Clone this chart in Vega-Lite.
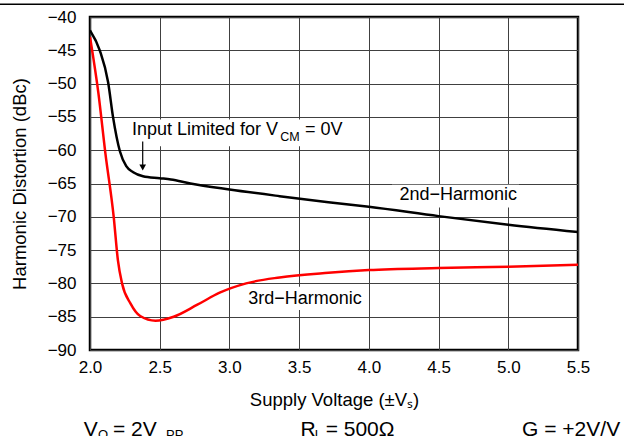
{
  "$schema": "https://vega.github.io/schema/vega-lite/v6.json",
  "width": 488,
  "height": 333,
  "autosize": {"type": "none"},
  "padding": {"left": 90, "top": 17, "right": 46, "bottom": 86},
  "background": "white",
  "config": {
    "font": "Liberation Sans",
    "view": {"stroke": "black", "strokeWidth": 2.5},
    "axis": {
      "grid": true,
      "gridColor": "#404040",
      "gridWidth": 1,
      "gridOpacity": 1,
      "domain": false,
      "ticks": false,
      "labelFont": "Liberation Sans",
      "labelFontSize": 17,
      "labelColor": "black",
      "labelOverlap": false,
      "labelFlush": false,
      "labelBound": false,
      "titleFont": "Liberation Sans",
      "titleFontSize": 18.5,
      "titleFontWeight": "normal",
      "titleColor": "black"
    }
  },
  "datasets": {
    "curves": [
      {"v": 2.0, "d": -42.0, "h": "2nd-Harmonic"},
      {"v": 2.07, "d": -45.0, "h": "2nd-Harmonic"},
      {"v": 2.13, "d": -49.8, "h": "2nd-Harmonic"},
      {"v": 2.165, "d": -55.0, "h": "2nd-Harmonic"},
      {"v": 2.215, "d": -60.2, "h": "2nd-Harmonic"},
      {"v": 2.26, "d": -62.4, "h": "2nd-Harmonic"},
      {"v": 2.31, "d": -63.3, "h": "2nd-Harmonic"},
      {"v": 2.38, "d": -63.9, "h": "2nd-Harmonic"},
      {"v": 2.5, "d": -64.2, "h": "2nd-Harmonic"},
      {"v": 2.58, "d": -64.4, "h": "2nd-Harmonic"},
      {"v": 2.72, "d": -65.0, "h": "2nd-Harmonic"},
      {"v": 3.0, "d": -65.9, "h": "2nd-Harmonic"},
      {"v": 3.36, "d": -66.9, "h": "2nd-Harmonic"},
      {"v": 3.71, "d": -67.8, "h": "2nd-Harmonic"},
      {"v": 4.0, "d": -68.5, "h": "2nd-Harmonic"},
      {"v": 4.5, "d": -69.9, "h": "2nd-Harmonic"},
      {"v": 5.0, "d": -71.2, "h": "2nd-Harmonic"},
      {"v": 5.5, "d": -72.3, "h": "2nd-Harmonic"},
      {"v": 2.0, "d": -43.0, "h": "3rd-Harmonic"},
      {"v": 2.06, "d": -51.4, "h": "3rd-Harmonic"},
      {"v": 2.11, "d": -60.4, "h": "3rd-Harmonic"},
      {"v": 2.17, "d": -70.0, "h": "3rd-Harmonic"},
      {"v": 2.2, "d": -76.5, "h": "3rd-Harmonic"},
      {"v": 2.23, "d": -80.0, "h": "3rd-Harmonic"},
      {"v": 2.29, "d": -83.0, "h": "3rd-Harmonic"},
      {"v": 2.36, "d": -84.9, "h": "3rd-Harmonic"},
      {"v": 2.47, "d": -85.6, "h": "3rd-Harmonic"},
      {"v": 2.6, "d": -85.0, "h": "3rd-Harmonic"},
      {"v": 2.77, "d": -83.2, "h": "3rd-Harmonic"},
      {"v": 2.93, "d": -81.4, "h": "3rd-Harmonic"},
      {"v": 3.12, "d": -80.0, "h": "3rd-Harmonic"},
      {"v": 3.36, "d": -79.1, "h": "3rd-Harmonic"},
      {"v": 3.71, "d": -78.4, "h": "3rd-Harmonic"},
      {"v": 4.0, "d": -78.0, "h": "3rd-Harmonic"},
      {"v": 4.5, "d": -77.7, "h": "3rd-Harmonic"},
      {"v": 5.0, "d": -77.5, "h": "3rd-Harmonic"},
      {"v": 5.5, "d": -77.2, "h": "3rd-Harmonic"}
    ],
    "boxes": [
      {"x1": 2.287, "x2": 3.85, "y1": -55.4, "y2": -59.4},
      {"x1": 4.166, "x2": 5.077, "y1": -65.2, "y2": -68.6},
      {"x1": 3.11, "x2": 3.987, "y1": -80.5, "y2": -84.0}
    ],
    "labels": [
      {"x": 2.301, "y": -56.9, "t": "Input Limited for V"},
      {"x": 3.542, "y": -56.9, "t": "= 0V"},
      {"x": 4.22, "y": -66.8, "t": "2nd−Harmonic"},
      {"x": 3.135, "y": -82.3, "t": "3rd−Harmonic"}
    ],
    "subs": [
      {"x": 3.365, "y": -58.0, "t": "CM"}
    ],
    "bottom": [
      {"x": 1.955, "y": -102.9, "t": "V"},
      {"x": 2.165, "y": -102.9, "t": "= 2V"},
      {"x": 3.51, "y": -102.9, "t": "R"},
      {"x": 3.69, "y": -102.9, "t": "= 500Ω"},
      {"x": 5.099, "y": -102.9, "t": "G = +2V/V"}
    ],
    "bottomsubs": [
      {"x": 2.058, "y": -103.4, "t": "O"},
      {"x": 2.545, "y": -103.4, "t": "PP"},
      {"x": 3.612, "y": -103.4, "t": "L"}
    ],
    "arrow": [
      {"x": 2.378, "y1": -58.7, "y2": -62.6}
    ],
    "topline": [
      {"x1": 1.354, "x2": 5.83, "y": -38.1}
    ]
  },
  "layer": [
    {
      "data": {"name": "boxes"},
      "mark": {"type": "rect", "fill": "white", "stroke": null},
      "encoding": {
        "x": {"field": "x1", "type": "quantitative",
              "scale": {"domain": [2.0, 5.5], "nice": false, "zero": false},
              "axis": {"values": [2.0, 2.5, 3.0, 3.5, 4.0, 4.5, 5.0, 5.5], "format": ".1f", "tickCount": 20,
                       "labelOverlap": false, "labelFlush": false,
                       "labelPadding": 9, "title": "Supply Voltage (±Vₛ)", "titlePadding": 15}},
        "x2": {"field": "x2"},
        "y": {"field": "y1", "type": "quantitative",
              "scale": {"domain": [-90, -40], "nice": false, "zero": false},
              "axis": {"values": [-90, -85, -80, -75, -70, -65, -60, -55, -50, -45, -40], "tickCount": 20,
                       "labelOverlap": false, "labelFlush": false, "labelBound": false,
                       "labelPadding": 14, "title": "Harmonic Distortion (dBc)", "titlePadding": 18}},
        "y2": {"field": "y2"}
      }
    },
    {
      "data": {"name": "curves"},
      "mark": {"type": "line", "strokeWidth": 2.5, "interpolate": "monotone", "clip": true},
      "encoding": {
        "x": {"field": "v", "type": "quantitative"},
        "y": {"field": "d", "type": "quantitative"},
        "detail": {"field": "h"},
        "color": {"field": "h", "type": "nominal",
                  "scale": {"domain": ["2nd-Harmonic", "3rd-Harmonic"], "range": ["#000000", "#ff0000"]},
                  "legend": null}
      }
    },
    {
      "data": {"name": "arrow"},
      "mark": {"type": "rule", "color": "black", "strokeWidth": 1.2},
      "encoding": {
        "x": {"field": "x", "type": "quantitative"},
        "y": {"field": "y1", "type": "quantitative"},
        "y2": {"field": "y2"}
      }
    },
    {
      "data": {"name": "arrow"},
      "mark": {"type": "point", "shape": "triangle-down", "filled": true, "color": "black", "size": 45, "opacity": 1},
      "encoding": {
        "x": {"field": "x", "type": "quantitative"},
        "y": {"field": "y2", "type": "quantitative"}
      }
    },
    {
      "data": {"name": "labels"},
      "mark": {"type": "text", "align": "left", "baseline": "middle", "fontSize": 18, "color": "black"},
      "encoding": {
        "x": {"field": "x", "type": "quantitative"},
        "y": {"field": "y", "type": "quantitative"},
        "text": {"field": "t"}
      }
    },
    {
      "data": {"name": "subs"},
      "mark": {"type": "text", "align": "left", "baseline": "middle", "fontSize": 12.5, "color": "black"},
      "encoding": {
        "x": {"field": "x", "type": "quantitative"},
        "y": {"field": "y", "type": "quantitative"},
        "text": {"field": "t"}
      }
    },
    {
      "data": {"name": "bottom"},
      "mark": {"type": "text", "align": "left", "baseline": "alphabetic", "fontSize": 21, "color": "black"},
      "encoding": {
        "x": {"field": "x", "type": "quantitative"},
        "y": {"field": "y", "type": "quantitative"},
        "text": {"field": "t"}
      }
    },
    {
      "data": {"name": "bottomsubs"},
      "mark": {"type": "text", "align": "left", "baseline": "alphabetic", "fontSize": 13, "color": "black"},
      "encoding": {
        "x": {"field": "x", "type": "quantitative"},
        "y": {"field": "y", "type": "quantitative"},
        "text": {"field": "t"}
      }
    },
    {
      "data": {"name": "topline"},
      "mark": {"type": "rule", "color": "black", "strokeWidth": 1.5},
      "encoding": {
        "x": {"field": "x1", "type": "quantitative"},
        "x2": {"field": "x2"},
        "y": {"field": "y", "type": "quantitative"}
      }
    }
  ]
}
